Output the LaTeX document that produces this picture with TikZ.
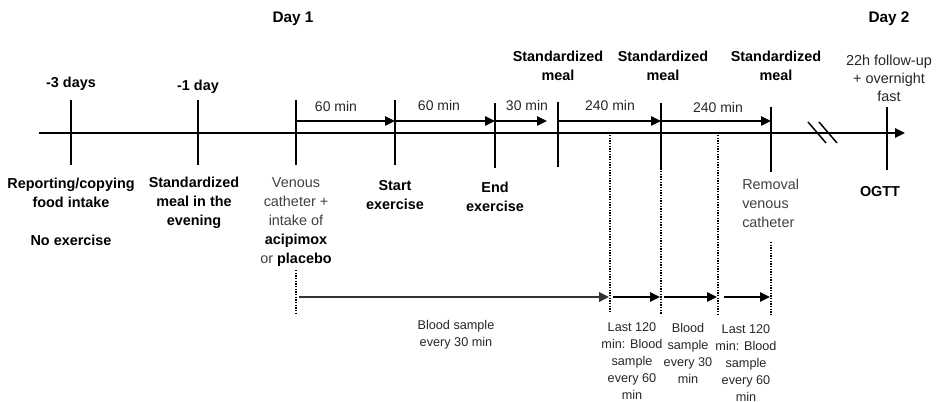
\documentclass[tikz,border=0pt]{standalone}
\usepackage{fontspec}
\setmainfont{Liberation Sans}
\usetikzlibrary{arrows.meta,positioning}

\begin{document}
\begin{tikzpicture}[
    x=0.75pt, y=-0.75pt,
    lbl/.style={align=center, inner sep=0pt, anchor=north, font=\fontsize{10.8}{14.3}\selectfont\bfseries},
    txt/.style={align=center, inner sep=0pt, anchor=north, text=black!75, font=\fontsize{10.8}{14.3}\selectfont},
    dur/.style={inner sep=0pt, text=black!85, font=\fontsize{10.5}{13}\selectfont},
    note/.style={align=center, inner sep=0pt, anchor=north, text=black!85, font=\fontsize{9.5}{12.75}\selectfont},
    axis/.style={line width=1.1pt},
    tick/.style={line width=1.1pt},
    arrow/.style={-{Triangle[length=7.5pt,width=7pt]}, line width=1.1pt},
    sample/.style={-{Triangle[length=7.5pt,width=7pt]}, line width=1.1pt},
    dots/.style={line width=1.1pt, dash pattern=on 1pt off 1pt}
]
\useasboundingbox (0,0) rectangle (939,402);

% Time axis
\coordinate (ax0) at (39,133);
\coordinate (ax1) at (905,133);
\draw[arrow] (ax0) -- (ax1);

% Break in the axis
\coordinate (br1a) at (808,122); \coordinate (br1b) at (826,143);
\coordinate (br2a) at (819,122); \coordinate (br2b) at (837,143);
\draw[tick] (br1a) -- (br1b);
\draw[tick] (br2a) -- (br2b);

% Ticks
\coordinate (d3t) at (71,100);  \coordinate (d3b) at (71,165);
\coordinate (d1t) at (198,100); \coordinate (d1b) at (198,165);
\coordinate (vct) at (296,100); \coordinate (vcb) at (296,165);
\coordinate (sxt) at (395,100); \coordinate (sxb) at (395,165);
\coordinate (ext) at (495,103); \coordinate (exb) at (495,168);
\coordinate (m1t) at (558,102); \coordinate (m1b) at (558,167);
\coordinate (m2t) at (661,103); \coordinate (m2b) at (661,170);
\coordinate (m3t) at (771,107); \coordinate (m3b) at (771,172);
\coordinate (ogt) at (887,107); \coordinate (ogb) at (887,170);
\draw[tick] (d3t) -- (d3b);
\draw[tick] (d1t) -- (d1b);
\draw[tick] (vct) -- (vcb);
\draw[tick] (sxt) -- (sxb);
\draw[tick] (ext) -- (exb);
\draw[tick] (m1t) -- (m1b);
\draw[tick] (m2t) -- (m2b);
\draw[tick] (m3t) -- (m3b);
\draw[tick] (ogt) -- (ogb);

% Durations above the axis
\coordinate (u0) at (296,121);
\coordinate (u1) at (395,121);
\coordinate (u2) at (495,121);
\coordinate (u3) at (547,121);
\coordinate (u4) at (558,121);
\coordinate (u5) at (661,121);
\coordinate (u6) at (771,121);
\draw[arrow] (u0) -- (u1);
\draw[arrow] (u1) -- (u2);
\draw[arrow] (u2) -- (u3);
\draw[arrow] (u4) -- (u5);
\draw[arrow] (u5) -- (u6);
\node[dur] (t60a) at (336,107) {60 min};
\node[dur] (t60b) at (439,106) {60 min};
\node[dur] (t30) at (527,106) {30 min};
\node[dur] (t240a) at (610,106) {240 min};
\node[dur] (t240b) at (718,108) {240 min};

% Dotted guides
\coordinate (q0t) at (296,270); \coordinate (q0b) at (296,313);
\coordinate (q1t) at (610,135); \coordinate (q1b) at (610,313);
\coordinate (q2t) at (661,171); \coordinate (q2b) at (661,314);
\coordinate (q3t) at (718,135); \coordinate (q3b) at (718,314);
\coordinate (q4t) at (771,242); \coordinate (q4b) at (771,315);
\draw[dots] (q0t) -- (q0b);
\draw[dots] (q1t) -- (q1b);
\draw[dots] (q2t) -- (q2b);
\draw[dots] (q3t) -- (q3b);
\draw[dots] (q4t) -- (q4b);

% Blood sampling
\coordinate (s0) at (299,297);
\coordinate (s1) at (609,297);
\coordinate (s2) at (613,297);
\coordinate (s3) at (660,297);
\coordinate (s4) at (664,297);
\coordinate (s5) at (717,297);
\coordinate (s6) at (724,297);
\coordinate (s7) at (770,297);
\draw[sample, draw=black!80, fill=black, line width=1.7pt] (s0) -- (s1);
\draw[sample] (s2) -- (s3);
\draw[sample] (s4) -- (s5);
\draw[sample] (s6) -- (s7);

% Labels above
\node[lbl, font=\fontsize{11.5}{14}\selectfont\bfseries] (day1) at (293,12) {Day 1};
\node[lbl, font=\fontsize{11.5}{14}\selectfont\bfseries] (day2) at (889,12) {Day 2};
\node[lbl] (d3) at (71,77) {-3 days};
\node[lbl] (d1) at (198,80) {-1 day};
\node[lbl] (meal1) at (558,51) {Standardized\\meal};
\node[lbl] (meal2) at (663,51) {Standardized\\meal};
\node[lbl] (meal3) at (776,51) {Standardized\\meal};
\node[txt, text=black!85, font=\fontsize{10.8}{13.5}\selectfont] (follow) at (889,55) {22h follow-up\\+ overnight\\fast};

% Labels below
\node[lbl] (report) at (71,178) {Reporting/copying\\food intake\\[14pt]No exercise};
\node[lbl] (evening) at (194,177) {Standardized\\meal in the\\evening};
\node[txt] (venous) at (296,177) {Venous\\catheter +\\intake of\\{\color{black}\bfseries acipimox}\\or {\color{black}\bfseries placebo}};
\node[lbl] (start) at (395,180) {Start\\exercise};
\node[lbl] (endex) at (495,182) {End\\exercise};
\node[txt, align=left, anchor=north west] (removal) at (742,179) {Removal\\venous\\catheter};
\node[lbl] (ogtt) at (880,186) {OGTT};

% Sampling notes
\node[note] (every30a) at (456,320) {Blood sample\\every 30 min};
\node[note] (last1) at (632,322) {Last 120\\min: Blood\\sample\\every 60\\min};
\node[note] (every30b) at (688,323) {Blood\\sample\\every 30\\min};
\node[note] (last2) at (746,324) {Last 120\\min: Blood\\sample\\every 60\\min};

\end{tikzpicture}
\end{document}
